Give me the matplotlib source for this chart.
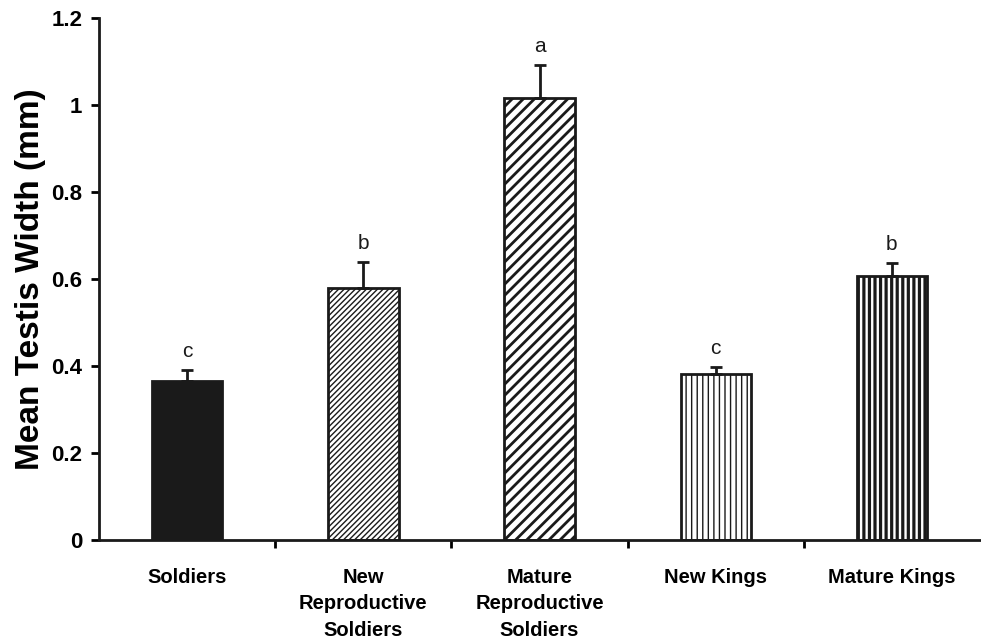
import matplotlib.pyplot as plt

plt.rcParams['font.family'] = ['Liberation Sans', 'DejaVu Sans']

categories = ["Soldiers", "New\nReproductive\nSoldiers", "Mature\nReproductive\nSoldiers",
              "New Kings", "Mature Kings"]
means = [0.365, 0.580, 1.015, 0.382, 0.608]
errors = [0.026, 0.060, 0.078, 0.016, 0.030]
letters = ["c", "b", "a", "c", "b"]
hatches = [None, "//////", "///", "|||", "|||"]
hatch_widths = [1.0, 1.0, 2.0, 1.0, 2.3]
facecolors = ["#1a1a1a", "white", "white", "white", "white"]

fig = plt.figure(figsize=(9.81, 6.43), dpi=100)
ax = fig.add_axes([0.101, 0.160, 0.898, 0.812])

for i in range(len(means)):
    with plt.rc_context({'hatch.linewidth': hatch_widths[i], 'hatch.color': '#1a1a1a'}):
        ax.bar(i, means[i], width=0.4, color=facecolors[i], edgecolor='#1a1a1a',
               linewidth=2.0, hatch=hatches[i], zorder=2)
    ax.errorbar(i, means[i], yerr=[[0], [errors[i]]], fmt='none', ecolor='#1a1a1a',
                elinewidth=2.0, capsize=4, capthick=2.0, zorder=3)
    ax.text(i, means[i] + errors[i] + 0.02, letters[i], ha='center', va='bottom',
            fontsize=15, color='#1a1a1a')

ax.set_xlim(-0.5, 4.5)
ax.set_ylim(0, 1.2)
ax.set_yticks([0, 0.2, 0.4, 0.6, 0.8, 1.0, 1.2])
ax.set_yticklabels(["0", "0.2", "0.4", "0.6", "0.8", "1", "1.2"], fontsize=16, fontweight='bold')
ax.set_xticks(range(len(categories)))
ax.set_xticklabels(categories, fontsize=14.5, fontweight='bold', linespacing=1.5)
ax.tick_params(axis='x', which='major', length=0, pad=20)
ax.set_xticks([0.5, 1.5, 2.5, 3.5], minor=True)
ax.tick_params(axis='x', which='minor', length=6, width=2, direction='out')
ax.tick_params(axis='y', length=6, width=2, direction='out', pad=6)
ax.set_ylabel("Mean Testis Width (mm)", fontsize=24, fontweight='bold', labelpad=4)

for s in ['top', 'right']:
    ax.spines[s].set_visible(False)
for s in ['left', 'bottom']:
    ax.spines[s].set_linewidth(2)
    ax.spines[s].set_color('#1a1a1a')

fig.savefig("out.png", dpi=100)
